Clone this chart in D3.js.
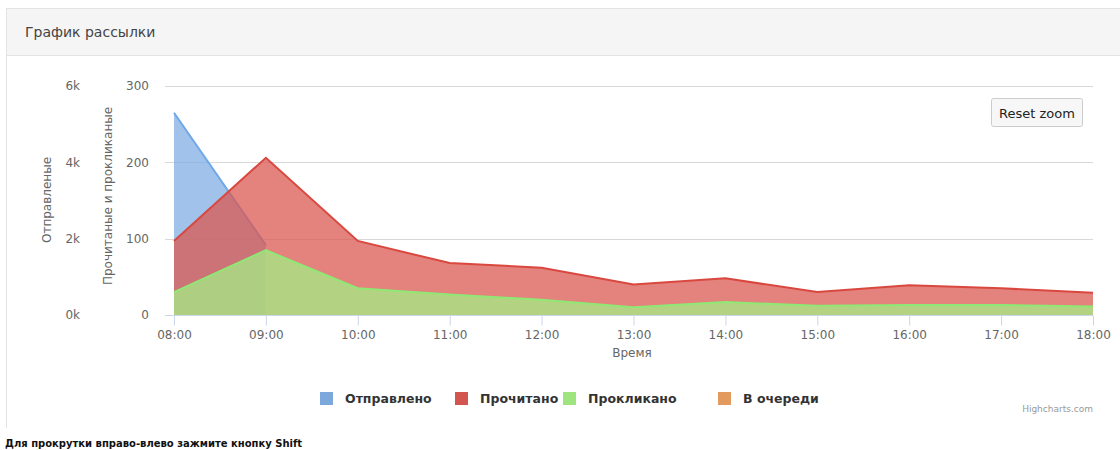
<!DOCTYPE html>
<html>
<head>
<meta charset="utf-8">
<script src="https://cdn.jsdelivr.net/npm/d3@7"></script>
<style>
  body { margin: 0; background: #fff; font-family: "DejaVu Sans", sans-serif; }
  svg { display: block; }
</style>
</head>
<body>
<svg id="chart" width="1120" height="450"></svg>
<script>
// data
var hours = ["08:00", "09:00", "10:00", "11:00", "12:00", "13:00", "14:00", "15:00", "16:00", "17:00", "18:00"];
var sent = [5300, 1830, null, null, null, null, null, null, null, null, null];
var read = [97, 206, 97, 68, 62, 40, 48, 30, 39, 35, 29];
var clicked = [30, 85, 35, 27, 20, 10, 17, 12, 13, 13, 11];
var queued = [null, null, null, null, null, null, null, null, null, null, null];
var leftTicks = [0, 2000, 4000, 6000];
var rightTicks = [0, 100, 200, 300];
var seriesNames = ["Отправлено", "Прочитано", "Прокликано", "В очереди"];
var seriesColors = ["#80aee4", "#db5852", "#a4ed84", "#eba062"];

var svg = d3.select("#chart");

// panel header
svg.append("rect")
  .attr("x", 6.5).attr("y", 8.5)
  .attr("width", 1120).attr("height", 47)
  .attr("fill", "#f5f5f5").attr("stroke", "#e3e3e3");
svg.append("line")
  .attr("x1", 6.5).attr("x2", 6.5).attr("y1", 55).attr("y2", 428)
  .attr("stroke", "#e3e3e3");
svg.append("text")
  .attr("x", 25).attr("y", 37)
  .attr("font-size", 14).attr("fill", "#444")
  .text("График рассылки");

var x = d3.scalePoint().domain(hours).range([174, 1093]);
var yL = d3.scaleLinear().domain([0, 6000]).range([315, 86]);
var yR = d3.scaleLinear().domain([0, 300]).range([315, 86]);

// grid
svg.append("g").selectAll("line")
  .data(rightTicks.slice(1))
  .enter().append("line")
  .attr("x1", 165).attr("x2", 1093)
  .attr("y1", d => Math.round(yR(d)) + 0.5).attr("y2", d => Math.round(yR(d)) + 0.5)
  .attr("stroke", "#d8d8d8");

// left axis (sent)
var axL = svg.append("g")
  .attr("transform", "translate(80,0)")
  .call(d3.axisLeft(yL).tickValues(leftTicks).tickSize(0).tickPadding(0)
    .tickFormat(d => (d / 1000) + "k"));
axL.select(".domain").remove();
axL.selectAll("text").attr("font-size", 12).attr("fill", "#666").attr("font-family", "DejaVu Sans");

var axR = svg.append("g")
  .attr("transform", "translate(149,0)")
  .call(d3.axisLeft(yR).tickValues(rightTicks).tickSize(0).tickPadding(0));
axR.select(".domain").remove();
axR.selectAll("text").attr("font-size", 12).attr("fill", "#666").attr("font-family", "DejaVu Sans");

svg.append("text")
  .attr("transform", "translate(51,200) rotate(-90)")
  .attr("text-anchor", "middle").attr("font-size", 12).attr("fill", "#666")
  .text("Отправленые");
svg.append("text")
  .attr("transform", "translate(112,196) rotate(-90)")
  .attr("text-anchor", "middle").attr("font-size", 12).attr("fill", "#666")
  .text("Прочитаные и прокликаные");

// areas
function drawArea(values, y, color, lineColor) {
  var pts = hours.map((h, i) => ({ h: h, v: values[i] }));
  var area = d3.area()
    .defined(d => d.v != null)
    .x(d => x(d.h)).y0(y(0)).y1(d => y(d.v));
  var line = d3.line()
    .defined(d => d.v != null)
    .x(d => x(d.h)).y(d => y(d.v));
  svg.append("path").datum(pts)
    .attr("d", area).attr("fill", color).attr("fill-opacity", 0.75);
  svg.append("path").datum(pts)
    .attr("d", line).attr("fill", "none")
    .attr("stroke", lineColor).attr("stroke-width", 2);
}
drawArea(sent, yL, seriesColors[0], "#6fa8e6");
drawArea(read, yR, seriesColors[1], "#d9483f");
drawArea(clicked, yR, seriesColors[2], "#8ee873");
drawArea(queued, yR, seriesColors[3], seriesColors[3]);

// x axis
var axX = svg.append("g")
  .attr("transform", "translate(0,315.5)")
  .call(d3.axisBottom(x).tickSize(10).tickPadding(5));
axX.select(".domain").attr("stroke", "#ccd6eb").attr("d", "M165,0H1093");
axX.selectAll(".tick line").attr("stroke", "#ccd6eb");
axX.selectAll("text").attr("font-size", 12).attr("fill", "#666").attr("font-family", "DejaVu Sans");
svg.append("text")
  .attr("x", 632).attr("y", 357)
  .attr("text-anchor", "middle").attr("font-size", 12).attr("fill", "#666")
  .text("Время");

// reset zoom button
var btn = svg.append("g").attr("transform", "translate(991.5,98.5)");
btn.append("rect").attr("width", 91).attr("height", 28).attr("rx", 2)
  .attr("fill", "#f7f7f7").attr("stroke", "#cccccc");
btn.append("text").attr("x", 45.5).attr("y", 19)
  .attr("text-anchor", "middle").attr("font-size", 13).attr("fill", "#222")
  .text("Reset zoom");

// legend
var legendX = [320, 455, 563, 718];
var lg = svg.append("g").selectAll("g")
  .data(seriesNames)
  .enter().append("g")
  .attr("transform", (d, i) => "translate(" + legendX[i] + ",392)");
lg.append("rect").attr("width", 13).attr("height", 13)
  .attr("fill", (d, i) => d3.color(seriesColors[i]).darker(0.1));
lg.append("text").attr("x", 25).attr("y", 11)
  .attr("font-size", 12.5).attr("font-weight", "bold").attr("fill", "#333")
  .text(d => d);

svg.append("text")
  .attr("x", 1093).attr("y", 412)
  .attr("text-anchor", "end").attr("font-size", 9).attr("fill", "#999")
  .text("Highcharts.com");

svg.append("text")
  .attr("x", 5).attr("y", 447)
  .attr("font-size", 10).attr("font-weight", "bold").attr("fill", "#111")
  .text("Для прокрутки вправо-влево зажмите кнопку Shift");
</script>
</body>
</html>
